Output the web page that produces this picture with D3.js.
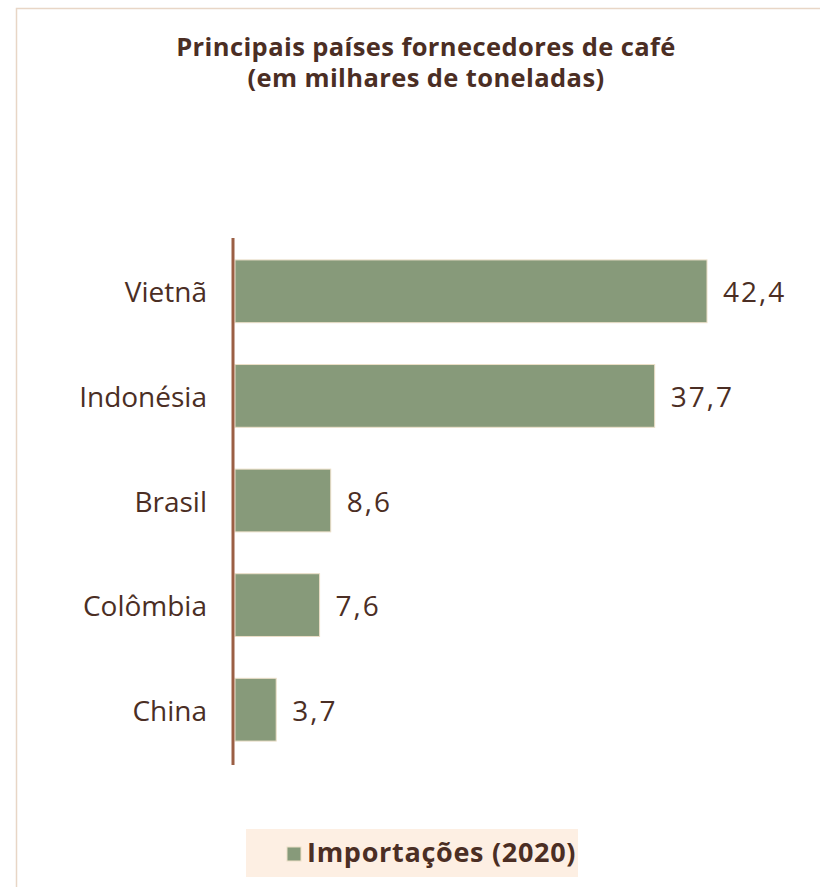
<!DOCTYPE html>
<html>
<head>
<meta charset="utf-8">
<script src="https://cdn.jsdelivr.net/npm/d3@7"></script>
<style>
  body { margin: 0; background: #fff; }
  text { font-family: "Open Sans", "Noto Sans", sans-serif; fill: #4b2e24; }
</style>
</head>
<body>
<div id="chart"></div>
<script>
let width = 820
  , height = 887;

// data
let paises = ['Vietnã', 'Indonésia', 'Brasil', 'Colômbia', 'China'];
let importacoes = [42.4, 37.7, 8.6, 7.6, 3.7];
let tituloLinhas = ['Principais países fornecedores de café', '(em milhares de toneladas)'];
let legendaLabel = 'Importações (2020)';

let data = paises.map((p, i) => ({ pais: p, valor: importacoes[i] }));

let svg = d3.select('#chart').append('svg')
  .attr('width', width).attr('height', height);

// frame
svg.append('path')
  .attr('d', 'M16.5,' + height + 'V8.5H' + width)
  .attr('fill', 'none')
  .attr('stroke', '#e8d6c6')
  .attr('stroke-width', 1.5);

// title (one text, two lines)
svg.append('text')
  .attr('text-anchor', 'middle')
  .attr('font-size', 25.5)
  .attr('font-weight', 'bold')
  .attr('letter-spacing', 0.4)
  .selectAll('tspan')
  .data(tituloLinhas).enter()
  .append('tspan')
  .attr('x', 426)
  .attr('y', (d, i) => 56 + i * 31)
  .text(d => d);

let x = d3.scaleLinear().domain([0, 42.4]).range([235, 707]);
let y = d3.scaleBand().domain(paises).range([239, 762])
  .paddingInner(0.4).paddingOuter(0.2);

// bars
svg.append('g').selectAll('rect')
  .data(data).enter()
  .append('rect')
  .attr('x', x(0))
  .attr('y', d => y(d.pais))
  .attr('width', d => x(d.valor) - x(0))
  .attr('height', y.bandwidth())
  .attr('fill', '#879a7a')
  .attr('stroke', '#ecdfc8')
  .attr('stroke-width', 1);

// value labels
svg.append('g').selectAll('text')
  .data(data).enter()
  .append('text')
  .attr('x', d => x(d.valor) + 16)
  .attr('y', d => y(d.pais) + y.bandwidth() / 2 + 11)
  .attr('font-size', 28)
  .attr('letter-spacing', 2)
  .text(d => d3.format('.1f')(d.valor).replace('.', ','));

// category axis
let yAxis = svg.append('g')
  .attr('transform', 'translate(233,0)')
  .call(d3.axisLeft(y).tickSize(0).tickPadding(26));
yAxis.select('.domain')
  .attr('d', 'M0,238V765')
  .attr('stroke', '#9b5f44')
  .attr('stroke-width', 3);
yAxis.selectAll('text')
  .attr('font-size', 28)
  .attr('dy', null)
  .attr('y', 11)
  .attr('font-family', '"Open Sans", "Noto Sans", sans-serif')
  .attr('fill', '#4b2e24');

// legend
let legend = svg.append('g');
legend.append('rect')
  .attr('x', 246).attr('y', 829)
  .attr('width', 332).attr('height', 48)
  .attr('fill', '#fdefe3');
legend.append('rect')
  .attr('x', 287).attr('y', 847)
  .attr('width', 14).attr('height', 14)
  .attr('fill', '#879a7a')
  .attr('stroke', '#ecdfc8');
legend.append('text')
  .attr('x', 307).attr('y', 862)
  .attr('font-size', 27)
  .attr('font-weight', 'bold')
  .attr('letter-spacing', 0.7)
  .text(legendaLabel);
</script>
</body>
</html>
